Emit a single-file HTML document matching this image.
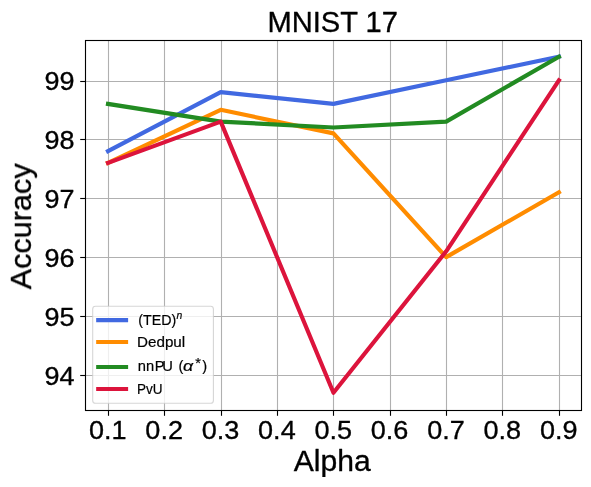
<!DOCTYPE html>
<html><head><meta charset="utf-8"><title>MNIST 17</title>
<style>
html,body{margin:0;padding:0;background:#fff;}
body{width:591px;height:487px;overflow:hidden;font-family:"Liberation Sans",sans-serif;}
svg{display:block;}
text{font-family:"Liberation Sans",sans-serif;fill:#000;}
</style></head><body>
<svg width="591" height="487" viewBox="0 0 591 487">
<rect x="0" y="0" width="591" height="487" fill="#ffffff"/>
<defs><clipPath id="ax"><rect x="85.75" y="40.65" width="496.00" height="369.60"/></clipPath></defs>

<g stroke="#b0b0b0" stroke-width="1.11" fill="none">
<line x1="108.5" y1="40.5" x2="108.5" y2="410.5"/>
<line x1="164.5" y1="40.5" x2="164.5" y2="410.5"/>
<line x1="221.5" y1="40.5" x2="221.5" y2="410.5"/>
<line x1="277.5" y1="40.5" x2="277.5" y2="410.5"/>
<line x1="333.5" y1="40.5" x2="333.5" y2="410.5"/>
<line x1="390.5" y1="40.5" x2="390.5" y2="410.5"/>
<line x1="446.5" y1="40.5" x2="446.5" y2="410.5"/>
<line x1="502.5" y1="40.5" x2="502.5" y2="410.5"/>
<line x1="559.5" y1="40.5" x2="559.5" y2="410.5"/>
<line x1="85.5" y1="375.5" x2="581.5" y2="375.5"/>
<line x1="85.5" y1="316.5" x2="581.5" y2="316.5"/>
<line x1="85.5" y1="257.5" x2="581.5" y2="257.5"/>
<line x1="85.5" y1="198.5" x2="581.5" y2="198.5"/>
<line x1="85.5" y1="139.5" x2="581.5" y2="139.5"/>
<line x1="85.5" y1="81.5" x2="581.5" y2="81.5"/>
</g>
<g clip-path="url(#ax)" fill="none" stroke-width="4.17" stroke-linejoin="round" stroke-linecap="square">
<polyline stroke="#4169e1" points="108.00,151.07 220.72,92.12 333.45,103.91 446.18,80.33 558.90,56.75"/>
<polyline stroke="#ff8c00" points="108.00,162.86 220.72,109.80 333.45,133.38 446.18,257.17 558.90,192.33"/>
<polyline stroke="#228b22" points="108.00,103.91 220.72,121.59 333.45,127.49 446.18,121.59 558.90,56.75"/>
<polyline stroke="#dc143c" points="108.00,162.86 220.72,121.59 333.45,392.75 446.18,251.28 558.90,80.33"/>
</g>
<g stroke="#000" stroke-width="1.11" fill="none">
<line x1="108.5" y1="410.50" x2="108.5" y2="415.80"/>
<line x1="164.5" y1="410.50" x2="164.5" y2="415.80"/>
<line x1="221.5" y1="410.50" x2="221.5" y2="415.80"/>
<line x1="277.5" y1="410.50" x2="277.5" y2="415.80"/>
<line x1="333.5" y1="410.50" x2="333.5" y2="415.80"/>
<line x1="390.5" y1="410.50" x2="390.5" y2="415.80"/>
<line x1="446.5" y1="410.50" x2="446.5" y2="415.80"/>
<line x1="502.5" y1="410.50" x2="502.5" y2="415.80"/>
<line x1="559.5" y1="410.50" x2="559.5" y2="415.80"/>
<line x1="80.20" y1="375.5" x2="85.50" y2="375.5"/>
<line x1="80.20" y1="316.5" x2="85.50" y2="316.5"/>
<line x1="80.20" y1="257.5" x2="85.50" y2="257.5"/>
<line x1="80.20" y1="198.5" x2="85.50" y2="198.5"/>
<line x1="80.20" y1="139.5" x2="85.50" y2="139.5"/>
<line x1="80.20" y1="81.5" x2="85.50" y2="81.5"/>
</g>
<rect x="85.5" y="40.5" width="496.0" height="370.0" fill="none" stroke="#000" stroke-width="1.11"/>
<g opacity="0.999" stroke="#000" stroke-width="0.35" stroke-linejoin="round">
<text x="107.80" y="438.7" font-size="26.5" text-anchor="middle" textLength="37.6" lengthAdjust="spacingAndGlyphs">0.1</text>
<text x="164.16" y="438.7" font-size="26.5" text-anchor="middle" textLength="37.6" lengthAdjust="spacingAndGlyphs">0.2</text>
<text x="220.52" y="438.7" font-size="26.5" text-anchor="middle" textLength="37.6" lengthAdjust="spacingAndGlyphs">0.3</text>
<text x="276.89" y="438.7" font-size="26.5" text-anchor="middle" textLength="37.6" lengthAdjust="spacingAndGlyphs">0.4</text>
<text x="333.25" y="438.7" font-size="26.5" text-anchor="middle" textLength="37.6" lengthAdjust="spacingAndGlyphs">0.5</text>
<text x="389.61" y="438.7" font-size="26.5" text-anchor="middle" textLength="37.6" lengthAdjust="spacingAndGlyphs">0.6</text>
<text x="445.98" y="438.7" font-size="26.5" text-anchor="middle" textLength="37.6" lengthAdjust="spacingAndGlyphs">0.7</text>
<text x="502.34" y="438.7" font-size="26.5" text-anchor="middle" textLength="37.6" lengthAdjust="spacingAndGlyphs">0.8</text>
<text x="558.70" y="438.7" font-size="26.5" text-anchor="middle" textLength="37.6" lengthAdjust="spacingAndGlyphs">0.9</text>
<text x="74.6" y="385.17" font-size="26.5" text-anchor="end" textLength="30.0" lengthAdjust="spacingAndGlyphs">94</text>
<text x="74.6" y="326.22" font-size="26.5" text-anchor="end" textLength="30.0" lengthAdjust="spacingAndGlyphs">95</text>
<text x="74.6" y="267.27" font-size="26.5" text-anchor="end" textLength="30.0" lengthAdjust="spacingAndGlyphs">96</text>
<text x="74.6" y="208.32" font-size="26.5" text-anchor="end" textLength="30.0" lengthAdjust="spacingAndGlyphs">97</text>
<text x="74.6" y="149.38" font-size="26.5" text-anchor="end" textLength="30.0" lengthAdjust="spacingAndGlyphs">98</text>
<text x="74.6" y="90.43" font-size="26.5" text-anchor="end" textLength="30.0" lengthAdjust="spacingAndGlyphs">99</text>
<text x="332.75" y="31.8" font-size="30.4" text-anchor="middle" textLength="130.5" lengthAdjust="spacingAndGlyphs">MNIST 17</text>
<text x="332.15" y="470.5" font-size="30.2" text-anchor="middle" textLength="77" lengthAdjust="spacingAndGlyphs">Alpha</text>
<text transform="translate(31.0 226.35) rotate(-90)" font-size="30.4" text-anchor="middle" textLength="126" lengthAdjust="spacingAndGlyphs">Accuracy</text>
</g>
<rect x="92.7" y="306.2" width="120.7" height="97.1" rx="2.8" ry="2.8" fill="#ffffff" fill-opacity="0.8" stroke="#cccccc" stroke-opacity="0.8" stroke-width="1.11"/>
<g fill="none" stroke-width="4.17" stroke-linecap="square">
<line x1="98.25" y1="320.20" x2="126.03" y2="320.20" stroke="#4169e1"/>
<line x1="98.25" y1="342.00" x2="126.03" y2="342.00" stroke="#ff8c00"/>
<line x1="98.25" y1="367.00" x2="126.03" y2="367.00" stroke="#228b22"/>
<line x1="98.25" y1="389.00" x2="126.03" y2="389.00" stroke="#dc143c"/>
</g>
<g opacity="0.999" stroke="#000" stroke-width="0.2">
<text x="138.30" y="324.90" font-size="14.70" textLength="38.00" lengthAdjust="spacingAndGlyphs">(TED)</text>
<text x="176.40" y="319.20" font-size="10.30" font-style="italic">n</text>
<text x="137.00" y="346.70" font-size="14.70" textLength="48.20" lengthAdjust="spacingAndGlyphs">Dedpul</text>
<text x="137.7 145.9 154.7 162.3" y="371.10" font-size="14.70">nnPU</text>
<text x="178.40" y="371.10" font-size="14.70">(</text>
<text x="183.00" y="371.10" font-size="14.70" textLength="10.20" lengthAdjust="spacingAndGlyphs" font-style="italic">α</text>
<text x="195.30" y="367.90" font-size="14.50">*</text>
<text x="202.20" y="371.10" font-size="14.70">)</text>
<text x="137.00" y="393.60" font-size="14.70" textLength="25.60" lengthAdjust="spacingAndGlyphs">PvU</text>
</g>
</svg></body></html>
